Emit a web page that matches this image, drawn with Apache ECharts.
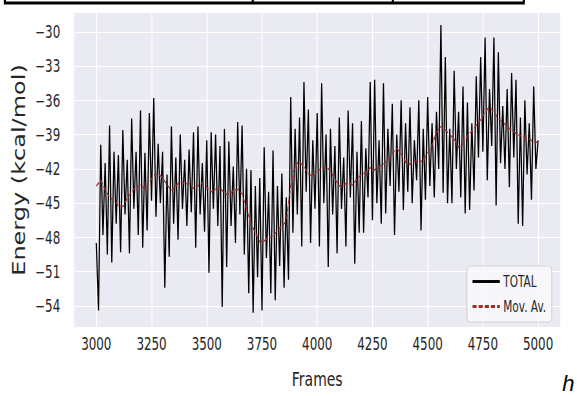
<!DOCTYPE html>
<html>
<head>
<meta charset="utf-8">
<script src="https://cdn.jsdelivr.net/npm/echarts@6/dist/echarts.min.js"></script>
<style>
  html, body { margin: 0; padding: 0; background: #fff; overflow: hidden; }
  #wrap { width: 577px; height: 396px; overflow: hidden; }
  /* the reference is squeezed horizontally, so draw wider and scale down */
  #chart { width: 824px; height: 396px; transform: scaleX(0.70024); transform-origin: 0 0; }
</style>
</head>
<body>
<div id="wrap"><div id="chart"></div></div>
<script>
const FRAME_START = 3000
const TOTAL_STEP = 10
const MA_STEP = 20

const xTicks = [3000, 3250, 3500, 3750, 4000, 4250, 4500, 4750, 5000]
const yTicks = [-54, -51, -48, -45, -42, -39, -36, -33, -30]

// TOTAL energy, one value every 10 frames from 3000
const totalEnergy = [
  -48.5, -54.4, -39.9, -47.8, -41.5, -49.5, -38.2, -50.2, -40.5, -46.8,
  -40.8, -49.3, -38.6, -46.0, -41.2, -49.4, -37.6, -45.5, -40.5, -47.8,
  -36.9, -48.9, -40.6, -47.4, -37.1, -44.8, -35.8, -46.2, -39.8, -45.0,
  -40.5, -52.4, -42.5, -49.7, -38.3, -46.8, -41.0, -48.2, -39.0, -45.5,
  -41.2, -47.0, -40.3, -45.8, -38.8, -48.9, -38.3, -46.0, -41.5, -47.5,
  -39.5, -51.1, -38.8, -45.5, -39.0, -47.0, -40.0, -54.1, -38.5, -50.6,
  -39.6, -47.0, -41.8, -48.5, -37.9, -46.0, -38.2, -49.5, -42.0, -52.9,
  -42.1, -54.6, -43.5, -51.5, -42.8, -54.4, -40.1, -49.8, -44.0, -52.9,
  -40.4, -53.5, -43.5, -50.5, -42.4, -52.4, -44.5, -51.7, -35.7, -47.6,
  -38.5, -46.0, -37.5, -48.8, -34.4, -44.0, -36.8, -48.5, -39.5, -45.5,
  -37.1, -48.8, -34.5, -45.0, -39.0, -50.6, -38.5, -46.0, -40.0, -49.4,
  -37.5, -45.5, -41.0, -48.8, -36.9, -44.5, -38.0, -50.3, -40.5, -47.6,
  -37.8, -47.6, -40.2, -44.5, -34.4, -46.5, -34.2, -45.0, -39.5, -46.8,
  -34.5, -45.9, -38.5, -43.5, -36.3, -47.8, -39.0, -44.0, -36.0, -45.6,
  -38.0, -44.0, -36.6, -45.0, -39.5, -43.0, -36.0, -47.4, -38.5, -44.7,
  -35.7, -43.5, -38.0, -44.5, -37.0, -42.0, -29.4, -44.1, -32.2, -45.0,
  -38.5, -45.0, -33.4, -42.0, -37.0, -44.5, -34.8, -45.9, -36.2, -45.6,
  -38.0, -43.9, -33.9, -41.0, -32.2, -40.5, -30.5, -43.0, -35.0, -40.0,
  -30.5, -45.2, -31.8, -41.5, -36.5, -42.0, -35.0, -43.6, -33.6, -41.0,
  -34.2, -46.8, -37.5, -47.0, -36.0, -42.5, -38.0, -44.7, -34.8, -42.0,
  -39.5
]

// moving average, one value every 20 frames from 3000
const movAvg = [
  -43.5, -43.0, -43.8, -44.5, -44.8, -45.2, -45.3, -44.6, -44.0, -43.6,
  -43.4, -43.8, -43.2, -42.6, -42.4, -42.8, -43.4, -43.9, -43.5, -43.1,
  -43.3, -43.3, -43.7, -43.5, -43.2, -43.6, -44.0, -43.8, -43.7, -44.1,
  -44.3, -43.9, -43.8, -44.2, -45.5, -46.8, -47.6, -48.4, -48.3, -48.0,
  -47.9, -47.4, -47.0, -46.6, -43.5, -41.6, -41.4, -41.8, -42.4, -42.7,
  -42.3, -41.9, -41.8, -42.2, -42.9, -43.5, -43.4, -43.2, -43.4, -42.9,
  -42.5, -42.3, -41.9, -42.1, -41.8, -41.6, -41.2, -40.6, -40.2, -40.7,
  -41.4, -41.6, -41.3, -41.4, -41.3, -40.6, -39.9, -38.8, -38.3, -38.6,
  -39.0, -39.4, -40.1, -39.8, -39.1, -38.7, -38.2, -37.7, -37.0, -36.6,
  -37.0, -37.6, -37.9, -38.3, -38.6, -38.9, -39.1, -39.3, -39.4, -39.6,
  -39.7
]

const SQUEEZE = 577 / 824
const textColor = '#262626'
const maColor = '#a52a2a'

// legend swatches: a solid bar and a dashed bar
const solidIcon = 'path://M0,0H40V3H0Z'
const dashedIcon = 'path://M0,0H6V3H0ZM9,0H15V3H9ZM18,0H24V3H18ZM27,0H33V3H27ZM36,0H40V3H36Z'

const chart = echarts.init(document.getElementById('chart'), null, { renderer: 'svg' })

chart.setOption({
  animation: false,
  backgroundColor: '#fff',
  textStyle: { fontFamily: 'DejaVu Sans' },
  grid: {
    left: 106,
    right: 24,
    top: 13,
    bottom: 69,
    show: true,
    backgroundColor: '#EAEAF2',
    borderWidth: 0
  },
  legend: {
    orient: 'vertical',
    right: 36,
    bottom: 74,
    data: [
      { name: 'TOTAL', icon: solidIcon },
      { name: 'Mov. Av.', icon: dashedIcon }
    ],
    itemWidth: 39,
    itemHeight: 3,
    itemGap: 10,
    padding: [8, 8],
    backgroundColor: 'rgba(248,248,251,0.9)',
    borderColor: '#cccccc',
    borderWidth: 1,
    borderRadius: 4,
    textStyle: { fontSize: 15, color: textColor, fontFamily: 'DejaVu Sans' }
  },
  xAxis: {
    type: 'value',
    min: 2900,
    max: 5100,
    name: 'Frames',
    nameLocation: 'middle',
    nameGap: 42,
    nameTextStyle: { fontSize: 20, color: textColor, fontFamily: 'DejaVu Sans' },
    axisLine: { show: false },
    axisTick: { show: false, customValues: xTicks },
    axisLabel: {
      customValues: xTicks,
      fontSize: 17,
      color: textColor,
      margin: 8,
      formatter: v => String(v)
    },
    splitLine: { show: true, lineStyle: { color: '#fff', width: 1.5 } }
  },
  yAxis: {
    type: 'value',
    min: -55.85,
    max: -28.35,
    name: 'Energy (kcal/mol)',
    nameLocation: 'middle',
    nameRotate: 90,
    nameGap: 54,
    nameTextStyle: { fontSize: 24, color: textColor, fontFamily: 'DejaVu Sans' },
    axisLine: { show: false },
    axisTick: { show: false, customValues: yTicks },
    axisLabel: {
      customValues: yTicks,
      fontSize: 17,
      color: textColor,
      margin: 20,
      formatter: v => String(v).replace('-', '\u2212')
    },
    splitLine: { show: true, lineStyle: { color: '#fff', width: 1.2 } }
  },
  graphic: [
    {
      type: 'polyline',
      shape: { points: [[7, -10], [7, 3], [748, 3], [748, -10]] },
      style: { stroke: '#000', lineWidth: 3, fill: null }
    },
    {
      type: 'line',
      shape: { x1: 361, y1: -10, x2: 361, y2: 3 },
      style: { stroke: '#000', lineWidth: 3 }
    },
    {
      type: 'line',
      shape: { x1: 561, y1: -10, x2: 561, y2: 3 },
      style: { stroke: '#000', lineWidth: 3 }
    },
    {
      type: 'text',
      x: 803,
      y: 372,
      scaleX: 1 / SQUEEZE,
      style: {
        text: 'h',
        font: 'italic 22px "Liberation Sans", Arial, sans-serif',
        fill: '#000'
      }
    }
  ],
  series: [
    {
      name: 'TOTAL',
      type: 'line',
      data: totalEnergy.map((v, i) => [FRAME_START + i * TOTAL_STEP, v]),
      symbol: 'none',
      lineStyle: { color: '#000', width: 1.8 },
      itemStyle: { color: '#000' },
      z: 2
    },
    {
      name: 'Mov. Av.',
      type: 'line',
      data: movAvg.map((v, i) => [FRAME_START + i * MA_STEP, v]),
      symbol: 'none',
      lineStyle: { color: maColor, width: 1.5, type: [5, 3] },
      itemStyle: { color: maColor },
      z: 3
    }
  ]
})
</script>
</body>
</html>
